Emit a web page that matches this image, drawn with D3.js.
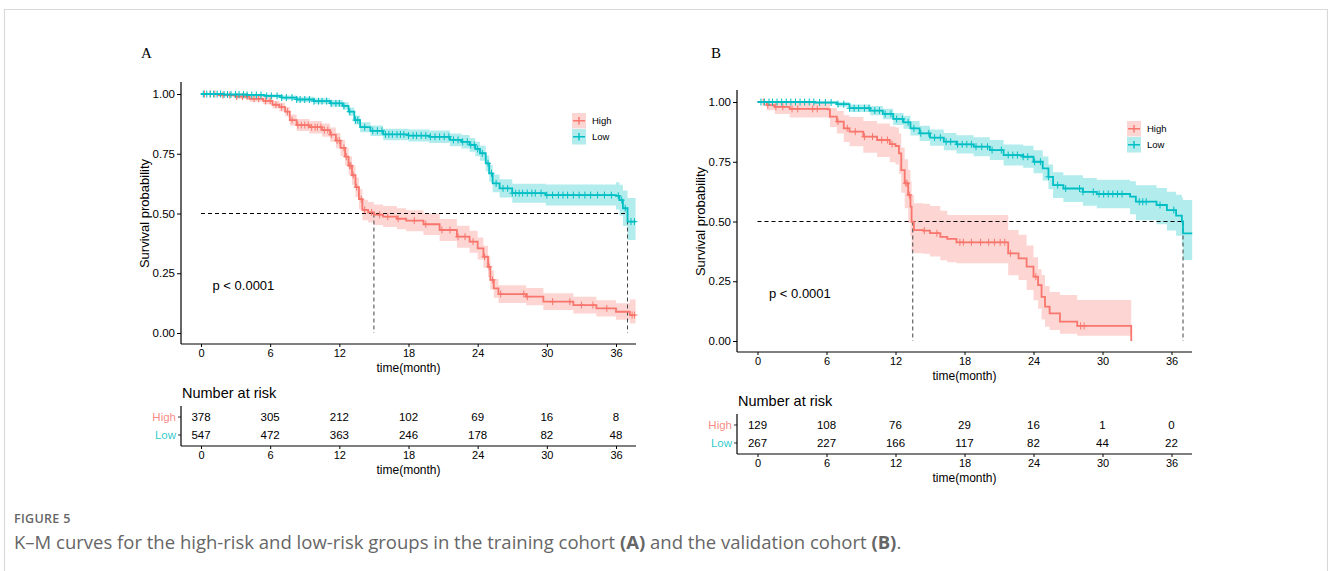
<!DOCTYPE html>
<html>
<head>
<meta charset="utf-8">
<script src="https://cdn.jsdelivr.net/npm/d3@7"></script>
<style>
  body { margin: 0; background: #fff; }
  text { font-family: 'Liberation Sans', Arial, sans-serif; fill: #000; }
</style>
</head>
<body>
<svg id="chart" width="1328" height="571"></svg>
<script>
'use strict'

const months = [0, 6, 12, 18, 24, 30, 36]
const probTicks = [0, 0.25, 0.5, 0.75, 1]
const groupNames = ['High', 'Low']
const groupColors = ['#F8766D', '#00BFC4']

// training cohort (A)
const aHighTime = [0, 1.5, 3.0, 4.2, 5.4, 6.2, 6.8, 7.3, 7.7, 8.3, 9.4, 10.5, 11.2, 11.7, 12.1, 12.5, 12.8, 13.1, 13.4, 13.7, 14.0, 14.5, 15.0, 15.8, 17.0, 17.8, 19.3, 20.7, 22.2, 23.3, 24.0, 24.5, 24.9, 25.1, 25.4, 25.8, 28.2, 29.7, 32.3, 34.3, 36.0, 37.2, 37.7]
const aHighSurv = [1.0, 0.995, 0.989, 0.980, 0.971, 0.955, 0.945, 0.926, 0.891, 0.870, 0.861, 0.849, 0.830, 0.805, 0.775, 0.738, 0.700, 0.660, 0.610, 0.560, 0.515, 0.505, 0.495, 0.487, 0.478, 0.470, 0.455, 0.431, 0.403, 0.382, 0.354, 0.319, 0.277, 0.222, 0.187, 0.163, 0.152, 0.131, 0.117, 0.103, 0.089, 0.075, 0.075]
const aHighLower = [1.0, 0.988, 0.979, 0.968, 0.957, 0.939, 0.927, 0.906, 0.868, 0.845, 0.835, 0.821, 0.800, 0.773, 0.741, 0.702, 0.662, 0.620, 0.569, 0.518, 0.472, 0.462, 0.452, 0.443, 0.434, 0.426, 0.410, 0.385, 0.357, 0.336, 0.308, 0.273, 0.233, 0.182, 0.148, 0.126, 0.116, 0.096, 0.082, 0.069, 0.055, 0.040, 0.040]
const aHighUpper = [1.0, 1.0, 0.999, 0.992, 0.985, 0.971, 0.963, 0.946, 0.914, 0.895, 0.887, 0.877, 0.860, 0.837, 0.809, 0.774, 0.738, 0.700, 0.651, 0.602, 0.558, 0.548, 0.538, 0.531, 0.522, 0.514, 0.500, 0.477, 0.449, 0.428, 0.400, 0.365, 0.321, 0.262, 0.226, 0.200, 0.188, 0.166, 0.152, 0.137, 0.124, 0.140, 0.140]
const aHighCensor = [0.3, 0.8, 1.2, 1.9, 2.5, 3.1, 3.6, 4.0, 4.6, 5.0, 5.6, 6.0, 6.5, 7.0, 7.5, 7.9, 8.4, 8.7, 9.0, 9.3, 9.6, 9.9, 10.1, 10.4, 10.7, 11.0, 11.3, 11.8, 12.0, 12.4, 12.6, 12.9, 13.0, 13.2, 13.5, 13.9, 14.2, 14.8, 15.5, 16.2, 17.1, 18.5, 19.5, 20.9, 21.6, 22.3, 22.9, 23.6, 24.6, 25.0, 25.3, 26.0, 28.0, 28.3, 30.5, 32.0, 33.0, 34.0, 35.2, 37.4, 37.6]

const aLowTime = [0, 2.0, 4.0, 5.5, 7.0, 8.3, 9.8, 11.2, 12.3, 12.8, 13.3, 13.8, 14.7, 15.8, 18.0, 19.8, 21.6, 22.6, 23.3, 23.8, 24.2, 24.7, 25.0, 25.3, 25.9, 27.0, 29.9, 36.0, 36.3, 36.6, 37.0, 37.7]
const aLowSurv = [1.0, 0.998, 0.996, 0.992, 0.985, 0.977, 0.970, 0.961, 0.950, 0.926, 0.891, 0.861, 0.846, 0.831, 0.826, 0.821, 0.808, 0.800, 0.787, 0.770, 0.752, 0.710, 0.668, 0.626, 0.605, 0.585, 0.577, 0.574, 0.556, 0.522, 0.466, 0.466]
const aLowLower = [1.0, 0.994, 0.990, 0.985, 0.976, 0.966, 0.958, 0.947, 0.935, 0.909, 0.872, 0.840, 0.824, 0.807, 0.801, 0.795, 0.781, 0.772, 0.758, 0.740, 0.721, 0.677, 0.633, 0.589, 0.567, 0.545, 0.533, 0.517, 0.492, 0.448, 0.389, 0.389]
const aLowUpper = [1.0, 1.0, 1.0, 0.999, 0.994, 0.988, 0.982, 0.975, 0.965, 0.943, 0.910, 0.882, 0.868, 0.855, 0.851, 0.847, 0.835, 0.828, 0.816, 0.800, 0.783, 0.743, 0.703, 0.663, 0.643, 0.625, 0.621, 0.631, 0.620, 0.596, 0.565, 0.565]
const aLowCensor = [0.2, 0.5, 0.8, 1.1, 1.4, 1.7, 2.0, 2.3, 2.6, 3.0, 3.3, 3.7, 4.0, 4.4, 4.8, 5.2, 5.7, 6.1, 6.6, 7.0, 7.4, 7.9, 8.3, 8.6, 9.0, 9.4, 9.8, 10.2, 10.5, 10.9, 11.3, 11.7, 12.0, 12.4, 12.9, 13.4, 13.6, 14.2, 14.9, 15.3, 15.7, 16.0, 16.3, 16.6, 17.0, 17.3, 17.6, 18.0, 18.4, 18.7, 19.1, 19.5, 19.9, 20.3, 20.7, 21.1, 21.5, 21.9, 22.3, 22.7, 23.1, 23.4, 23.7, 24.0, 24.4, 24.9, 25.2, 25.6, 26.2, 26.6, 27.0, 27.3, 27.6, 27.9, 28.3, 28.7, 29.0, 29.5, 30.0, 30.5, 31.0, 31.4, 31.8, 32.3, 32.8, 33.3, 33.8, 34.4, 35.0, 35.6, 36.2, 36.5, 36.8, 37.3, 37.6]

const aRiskHigh = [378, 305, 212, 102, 69, 16, 8]
const aRiskLow = [547, 472, 363, 246, 178, 82, 48]
const aMedians = [15.0, 37.0]

// validation cohort (B)
const bHighTime = [0, 0.8, 1.5, 2.8, 6.1, 6.3, 6.9, 7.5, 8.0, 9.2, 10.4, 11.5, 12.0, 12.3, 12.5, 12.8, 13.1, 13.3, 13.4, 13.6, 14.4, 15.0, 15.9, 16.5, 17.3, 21.8, 22.7, 23.4, 24.0, 24.4, 24.7, 25.0, 25.4, 26.3, 27.8, 32.5]
const bHighSurv = [1.0, 0.987, 0.980, 0.971, 0.969, 0.939, 0.918, 0.890, 0.876, 0.855, 0.841, 0.824, 0.816, 0.785, 0.715, 0.660, 0.611, 0.562, 0.499, 0.464, 0.462, 0.451, 0.436, 0.427, 0.413, 0.367, 0.346, 0.311, 0.269, 0.234, 0.185, 0.144, 0.116, 0.081, 0.063, 0]
const bHighLower = [1.0, 0.965, 0.950, 0.935, 0.932, 0.895, 0.868, 0.833, 0.815, 0.788, 0.770, 0.748, 0.738, 0.700, 0.620, 0.555, 0.495, 0.440, 0.373, 0.367, 0.365, 0.354, 0.338, 0.329, 0.325, 0.275, 0.255, 0.213, 0.170, 0.135, 0.090, 0.060, 0.046, 0.030, 0.022, 0.022]
const bHighUpper = [1.0, 1.0, 1.0, 0.997, 0.996, 0.975, 0.962, 0.945, 0.937, 0.920, 0.910, 0.897, 0.893, 0.868, 0.810, 0.760, 0.715, 0.668, 0.610, 0.576, 0.574, 0.565, 0.545, 0.527, 0.527, 0.464, 0.445, 0.400, 0.350, 0.300, 0.276, 0.230, 0.205, 0.192, 0.172, 0.172]
const bHighCensor = [0.5, 0.9, 1.6, 2.2, 3.0, 3.5, 4.8, 5.2, 7.0, 7.8, 8.5, 9.3, 10.0, 10.8, 11.3, 11.7, 12.9, 13.0, 13.2, 14.5, 15.6, 17.6, 17.9, 18.6, 19.4, 20.1, 20.6, 21.1, 21.5, 22.0, 24.2, 28.1, 28.4]

const bLowTime = [0, 5.0, 6.9, 8.0, 9.8, 10.9, 11.8, 12.7, 13.3, 14.1, 15.0, 16.2, 17.3, 18.8, 20.2, 21.4, 23.1, 24.0, 24.8, 25.3, 25.7, 26.6, 28.3, 29.5, 32.4, 32.9, 34.7, 35.6, 36.4, 36.9, 37.0, 37.8]
const bLowSurv = [1.0, 0.998, 0.991, 0.974, 0.964, 0.950, 0.929, 0.915, 0.890, 0.869, 0.851, 0.834, 0.823, 0.813, 0.799, 0.778, 0.771, 0.750, 0.722, 0.687, 0.652, 0.638, 0.624, 0.615, 0.604, 0.583, 0.569, 0.548, 0.525, 0.500, 0.450, 0.450]
const bLowLower = [1.0, 0.994, 0.980, 0.958, 0.945, 0.928, 0.904, 0.888, 0.860, 0.837, 0.817, 0.798, 0.785, 0.773, 0.757, 0.734, 0.725, 0.702, 0.672, 0.635, 0.598, 0.582, 0.566, 0.555, 0.530, 0.505, 0.488, 0.462, 0.440, 0.400, 0.339, 0.339]
const bLowUpper = [1.0, 1.0, 1.0, 0.990, 0.983, 0.972, 0.954, 0.942, 0.920, 0.901, 0.885, 0.870, 0.861, 0.853, 0.841, 0.822, 0.817, 0.798, 0.772, 0.739, 0.706, 0.694, 0.682, 0.675, 0.668, 0.652, 0.640, 0.625, 0.612, 0.600, 0.590, 0.590]
const bLowCensor = [0.3, 0.6, 1.0, 1.3, 1.7, 2.1, 2.5, 2.9, 3.3, 3.7, 4.1, 4.5, 4.9, 5.4, 5.9, 6.4, 7.0, 7.5, 8.0, 8.4, 8.8, 9.3, 9.7, 10.2, 10.6, 11.1, 11.6, 12.1, 12.6, 13.1, 13.6, 14.2, 14.9, 15.4, 15.9, 16.4, 16.8, 17.4, 17.8, 18.2, 18.6, 19.0, 19.5, 20.0, 20.4, 21.2, 21.8, 22.2, 22.6, 23.1, 23.5, 24.1, 24.6, 25.3, 26.1, 26.8, 28.0, 28.3, 29.2, 29.7, 30.1, 30.5, 30.9, 31.3, 31.7, 33.2, 33.5, 33.8, 35.0, 36.2]

const bRiskHigh = [129, 108, 76, 29, 16, 1, 0]
const bRiskLow = [267, 227, 166, 117, 82, 44, 22]
const bMedians = [13.5, 37.0]

const svg = d3.select('#chart')

svg.append('rect')
  .attr('width', 1328)
  .attr('height', 571)
  .attr('fill', '#fff')

// page frame
svg.append('path')
  .attr('d', 'M4.5,575 V9.5 H1327.5 V575')
  .attr('fill', 'none')
  .attr('stroke', '#d9d9d9')
  .attr('stroke-width', 1.2)

function zip(time, surv, lower, upper) {
  return time.map((t, i) => ({ t: t, s: surv[i], lo: lower[i], hi: upper[i] }))
}

function survAt(curve, t) {
  const i = d3.bisectRight(curve.map(d => d.t), t) - 1
  return curve[Math.max(0, i)].s
}

function drawPanel(cfg, curves, censors, risks, medians) {
  const g = svg.append('g')

  const x = d3.scaleLinear().domain([0, 36]).range([cfg.x0, cfg.x36])
  const y = d3.scaleLinear().domain([0, 1]).range([cfg.y0, cfg.y1])

  // panel letter
  g.append('text')
    .attr('x', cfg.labelX)
    .attr('y', 58)
    .style('font-family', "'Liberation Serif', 'Times New Roman', serif")
    .style('font-size', '15px')
    .text(cfg.label)

  // bands first, then lines
  const area = d3.area()
    .curve(d3.curveStepAfter)
    .x(d => x(d.t))
    .y0(d => y(d.lo))
    .y1(d => y(d.hi))

  const line = d3.line()
    .curve(d3.curveStepAfter)
    .x(d => x(d.t))
    .y(d => y(d.s))

  curves.forEach((c, i) => {
    g.append('path')
      .attr('d', area(c))
      .attr('fill', groupColors[i])
      .attr('fill-opacity', 0.3)
  })

  // median reference lines
  const medGroup = g.append('g')
    .attr('stroke', '#000')
    .attr('stroke-width', 1)
    .attr('stroke-dasharray', '4,3')
    .attr('fill', 'none')
  medGroup.append('line')
    .attr('x1', x(0)).attr('x2', x(d3.max(medians)))
    .attr('y1', y(0.5)).attr('y2', y(0.5))
  medians.forEach(m => {
    medGroup.append('line')
      .attr('x1', x(m)).attr('x2', x(m))
      .attr('y1', y(0.5)).attr('y2', y(0))
      .attr('stroke', '#444')
  })

  curves.forEach((c, i) => {
    g.append('path')
      .attr('d', line(c))
      .attr('fill', 'none')
      .attr('stroke', groupColors[i])
      .attr('stroke-width', 1.8)

    const marks = g.append('g')
      .attr('stroke', groupColors[i])
      .attr('stroke-width', 1)
    censors[i].forEach(t => {
      const cx = x(t)
      const cy = y(survAt(c, t))
      marks.append('path')
        .attr('d', `M${cx},${cy - 3.5}V${cy + 3.5}M${cx - 3},${cy}H${cx + 3}`)
    })
  })

  // y axis
  const yAxis = d3.axisLeft(y)
    .tickValues(probTicks)
    .tickFormat(d3.format('.2f'))
    .tickSize(4)
    .tickPadding(2)
  const gy = g.append('g')
    .attr('transform', `translate(${cfg.axisX},0)`)
    .call(yAxis)
  gy.select('.domain').remove()
  gy.selectAll('text').style('font-size', '11.5px').attr('fill', '#222')
  g.append('line')
    .attr('x1', cfg.axisX).attr('x2', cfg.axisX)
    .attr('y1', cfg.yTop).attr('y2', cfg.xAxisY)
    .attr('stroke', '#000').attr('stroke-width', 1.2)

  // x axis
  const xAxis = d3.axisBottom(x)
    .tickValues(months)
    .tickSize(3)
    .tickPadding(2)
  const gx = g.append('g')
    .attr('transform', `translate(0,${cfg.xAxisY})`)
    .call(xAxis)
  gx.select('.domain').remove()
  gx.selectAll('text').style('font-size', '11px').attr('fill', '#222')
  g.append('line')
    .attr('x1', cfg.axisX).attr('x2', cfg.xEnd)
    .attr('y1', cfg.xAxisY).attr('y2', cfg.xAxisY)
    .attr('stroke', '#000').attr('stroke-width', 1.2)

  g.append('text')
    .attr('x', (cfg.axisX + cfg.xEnd) / 2)
    .attr('y', cfg.xAxisY + 28)
    .attr('text-anchor', 'middle')
    .style('font-size', '12px')
    .text('time(month)')

  g.append('text')
    .attr('transform', `translate(${cfg.axisX - 32},${(cfg.y0 + cfg.y1) / 2}) rotate(-90)`)
    .attr('text-anchor', 'middle')
    .style('font-size', '13px')
    .text('Survival probability')

  g.append('text')
    .attr('x', x(1))
    .attr('y', y(cfg.pAt) + 5)
    .style('font-size', '13px')
    .text('p < 0.0001')

  // legend
  const lg = g.append('g').attr('transform', `translate(${cfg.legendX},${cfg.legendY})`)
  groupNames.forEach((name, i) => {
    const ky = i * 16
    lg.append('rect')
      .attr('x', 0).attr('y', ky)
      .attr('width', 14).attr('height', 15.5)
      .attr('fill', groupColors[i])
      .attr('fill-opacity', 0.3)
    lg.append('path')
      .attr('d', `M1,${ky + 7.75}H13M7,${ky + 4}V${ky + 11.5}`)
      .attr('stroke', groupColors[i])
      .attr('stroke-width', 1.4)
    lg.append('text')
      .attr('x', 20).attr('y', ky + 11)
      .style('font-size', '9.5px')
      .text(name)
  })

  // risk table
  const t0 = cfg.tableTop
  g.append('text')
    .attr('x', cfg.axisX + 1)
    .attr('y', t0)
    .style('font-size', '14.5px')
    .text('Number at risk')

  const rowY = [t0 + 19, t0 + 37]
  risks.forEach((row, i) => {
    g.append('text')
      .attr('x', cfg.axisX - 5)
      .attr('y', rowY[i] + 4)
      .attr('text-anchor', 'end')
      .style('fill', groupColors[i])
      .style('fill-opacity', 0.85)
      .style('font-size', '11.5px')
      .text(groupNames[i])
    g.append('line')
      .attr('x1', cfg.axisX - 3).attr('x2', cfg.axisX)
      .attr('y1', rowY[i]).attr('y2', rowY[i])
      .attr('stroke', '#333')
    g.selectAll(null)
      .data(row)
      .enter()
      .append('text')
      .attr('x', (d, j) => x(months[j]))
      .attr('y', rowY[i] + 4)
      .attr('text-anchor', 'middle')
      .style('font-size', '11.5px')
      .text(d => d)
  })

  const tableAxisY = t0 + 48
  g.append('line')
    .attr('x1', cfg.axisX).attr('x2', cfg.axisX)
    .attr('y1', t0 + 8).attr('y2', tableAxisY)
    .attr('stroke', '#000').attr('stroke-width', 1.2)
  const gt = g.append('g')
    .attr('transform', `translate(0,${tableAxisY})`)
    .call(d3.axisBottom(x).tickValues(months).tickSize(3).tickPadding(2))
  gt.select('.domain').remove()
  gt.selectAll('text').style('font-size', '11px').attr('fill', '#222')
  g.append('line')
    .attr('x1', cfg.axisX).attr('x2', cfg.xEnd)
    .attr('y1', tableAxisY).attr('y2', tableAxisY)
    .attr('stroke', '#000').attr('stroke-width', 1.2)
  g.append('text')
    .attr('x', (cfg.axisX + cfg.xEnd) / 2)
    .attr('y', tableAxisY + 28)
    .attr('text-anchor', 'middle')
    .style('font-size', '12px')
    .text('time(month)')
}

drawPanel(
  { label: 'A', labelX: 141, axisX: 181, x0: 201, x36: 616, xEnd: 636, y0: 333, y1: 94, yTop: 82, xAxisY: 344,
    pAt: 0.2, legendX: 572, legendY: 113, tableTop: 398 },
  [zip(aHighTime, aHighSurv, aHighLower, aHighUpper), zip(aLowTime, aLowSurv, aLowLower, aLowUpper)],
  [aHighCensor, aLowCensor],
  [aRiskHigh, aRiskLow],
  aMedians
)

drawPanel(
  { label: 'B', labelX: 711, axisX: 737, x0: 757.5, x36: 1171.5, xEnd: 1192, y0: 341, y1: 102, yTop: 90, xAxisY: 352,
    pAt: 0.2, legendX: 1127, legendY: 121, tableTop: 406 },
  [zip(bHighTime, bHighSurv, bHighLower, bHighUpper), zip(bLowTime, bLowSurv, bLowLower, bLowUpper)],
  [bHighCensor, bLowCensor],
  [bRiskHigh, bRiskLow],
  bMedians
)

// caption
svg.append('text')
  .attr('x', 14)
  .attr('y', 523)
  .style('font-family', "'Open Sans', sans-serif")
  .style('font-size', '12.5px')
  .style('font-weight', 600)
  .style('fill', '#666')
  .style('letter-spacing', '0.3px')
  .text('FIGURE 5')

const cap = svg.append('text')
  .attr('x', 14)
  .attr('y', 549)
  .style('font-family', "'Open Sans', sans-serif")
  .style('font-size', '18.5px')
  .style('fill', '#666')
cap.append('tspan').text('K\u2013M curves for the high-risk and low-risk groups in the training cohort ')
cap.append('tspan').style('font-weight', 700).text('(A)')
cap.append('tspan').text(' and the validation cohort ')
cap.append('tspan').style('font-weight', 700).text('(B)')
cap.append('tspan').text('.')
</script>
</body>
</html>
